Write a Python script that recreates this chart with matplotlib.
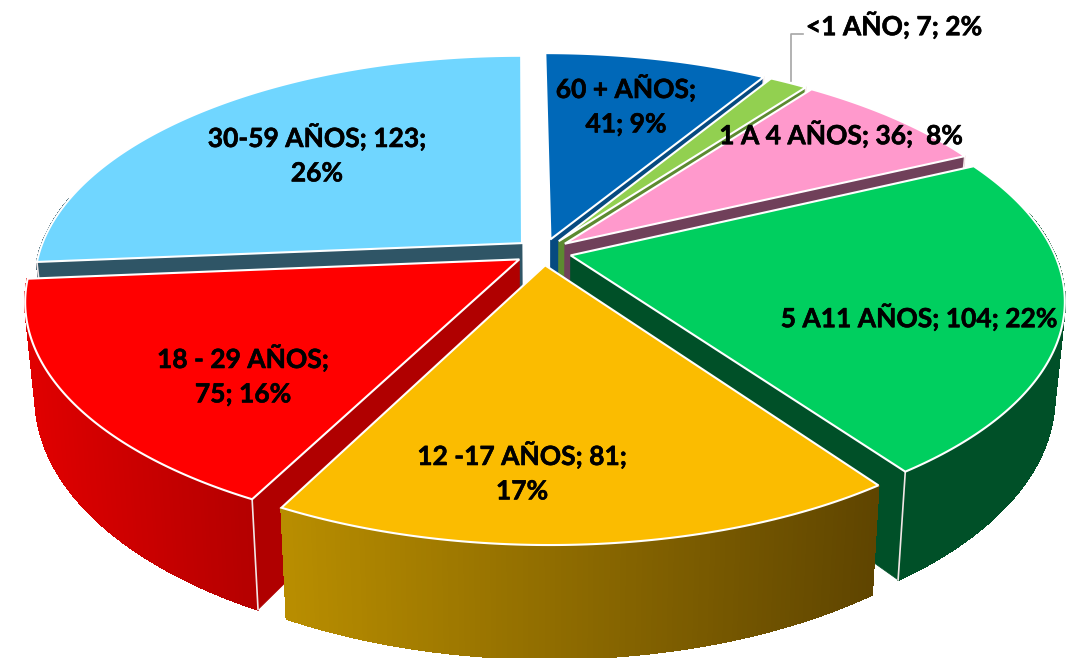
import numpy as np
import matplotlib
matplotlib.use('Agg')
import matplotlib.pyplot as plt
import matplotlib.patheffects as pe
from matplotlib.patches import Polygon
from matplotlib.colors import to_rgb

# datos, en sentido horario desde arriba
grupos = ['60 + AÑOS', '<1 AÑO', '1 A 4 AÑOS', '5 A11 AÑOS', '12 -17 AÑOS', '18 - 29 AÑOS', '30-59 AÑOS']
casos = [41, 7, 36, 104, 81, 75, 123]
porcentajes = [9, 2, 8, 22, 17, 16, 26]
color_sup = ['#0068b8', '#92d050', '#ff99cc', '#00cf5f', '#fbbc00', '#ff0000', '#70d6ff']
color_lat = ['#064a80', '#5c8a30', '#70405a', '#005028', '#7a5a00', '#b00000', '#2f5566']

# pared exterior: color al inicio y al final del degradado
grad_ini = ['#064a80', '#5c8a30', '#70405a', '#005028', '#b98e00', '#e00000', '#2f5566']
grad_fin = ['#064a80', '#5c8a30', '#70405a', '#005028', '#5f4500', '#b40000', '#2f5566']

# parametros de la proyeccion (en pixeles)
CX, CY = 543, 252
A, B = 483, 224
K = 0.18      # perspectiva
H = 92        # altura del pastel
C = 0.02      # las verticales convergen hacia abajo
S = 4         # el frente queda un poco corrido a la derecha
EXPL = 0.059


def proj(u, v, z=0.0):
    w = 1 + K * v
    return CX - S * v + A * u / w * (1 - C * z), CY - (B * v - z * H) / w


def mezcla(c0, c1, f):
    c0, c1 = np.array(to_rgb(c0)), np.array(to_rgb(c1))
    return tuple(c0 + (c1 - c0) * f)


def pared_visible(p0, p1, q):
    # la pared se ve si el interior de la porcion queda por encima de ella
    dx, dy = p1[0] - p0[0], p1[1] - p0[1]
    if abs(dx) < 10:
        return False
    return q[1] < p0[1] + dy / dx * (q[0] - p0[0])


fig = plt.figure(figsize=(10.82, 6.58), dpi=100)
ax = fig.add_axes([0, 0, 1, 1])
ax.set_xlim(0, 1082)
ax.set_ylim(658, 0)
ax.axis('off')

total = sum(casos)
bordes = np.radians(np.cumsum([0] + casos) / total * 360)

# de atras hacia adelante
mids = (bordes[:-1] + bordes[1:]) / 2
orden = np.argsort(-np.cos(mids))

for rank, i in enumerate(orden):
    t0, t1 = bordes[i], bordes[i + 1]
    mid = mids[i]
    z = 2 + rank
    th = np.linspace(t0, t1, 120)
    du, dv = EXPL * np.sin(mid), EXPL * np.cos(mid)
    us, vs = du + np.sin(th), dv + np.cos(th)
    centro_arco = proj(du + np.sin(mid), dv + np.cos(mid))

    # pared exterior con degradado (la parte de atras no se ve)
    xs_arc = np.array([proj(a, b)[0] for a, b in zip(us, vs)])
    x0, x1 = xs_arc.min(), xs_arc.max()
    for j in range(len(th) - 1):
        if np.cos(th[j]) > 0.2:
            continue
        pts = [proj(us[j], vs[j], 0), proj(us[j + 1], vs[j + 1], 0),
               proj(us[j + 1], vs[j + 1], 1), proj(us[j], vs[j], 1)]
        f = (xs_arc[j] - x0) / max(x1 - x0, 1)
        c = mezcla(grad_ini[i], grad_fin[i], f)
        ax.add_patch(Polygon(pts, closed=True, fc=c, ec=c, lw=1.0, antialiased=False, zorder=z))

    # paredes radiales, solo las que dan al frente
    for t in (t0, t1):
        u1, v1 = du + np.sin(t), dv + np.cos(t)
        if not pared_visible(proj(du, dv), proj(u1, v1), centro_arco):
            continue
        pts = [proj(du, dv, 0), proj(u1, v1, 0), proj(u1, v1, 1), proj(du, dv, 1)]
        ax.add_patch(Polygon(pts, closed=True, fc=color_lat[i], ec=color_lat[i], lw=0.5, zorder=z))
        esquina = [proj(u1, v1, 0), proj(u1, v1, 1)]
        ax.plot([p[0] for p in esquina], [p[1] for p in esquina], color='#f2e6e6', lw=1.2, zorder=z)

    # cara superior
    top = [proj(du, dv)] + [proj(a, b) for a, b in zip(us, vs)]
    ax.add_patch(Polygon(top, closed=True, fc=color_sup[i], ec='white', lw=1.5, zorder=z))

fuente = dict(family='Lato', weight='bold', fontsize=19, color='black', ha='center', va='center',
              linespacing=1.52, zorder=30,
              path_effects=[pe.withStroke(linewidth=0.4, foreground='black')])

ax.text(626, 105, f'{grupos[0]};\n{casos[0]}; {porcentajes[0]}%', **fuente)
ax.text(894, 25, f'{grupos[1]}; {casos[1]}; {porcentajes[1]}%', **fuente)
ax.text(841, 134, f'{grupos[2]}; {casos[2]};  {porcentajes[2]}%', **fuente)
ax.text(919, 317, f'{grupos[3]}; {casos[3]}; {porcentajes[3]}%', **fuente)
ax.text(522, 472, f'{grupos[4]}; {casos[4]};\n{porcentajes[4]}%', **fuente)
ax.text(243, 375, f'{grupos[5]};\n{casos[5]}; {porcentajes[5]}%', **fuente)
ax.text(317, 154, f'{grupos[6]}; {casos[6]};\n{porcentajes[6]}%', **fuente)

# linea guia de <1 ANO
ax.plot([803, 790.5, 790.5], [34, 34, 81], color='#a6a6a6', lw=1.2, zorder=29)

fig.savefig('out.png', dpi=100, facecolor='white')
